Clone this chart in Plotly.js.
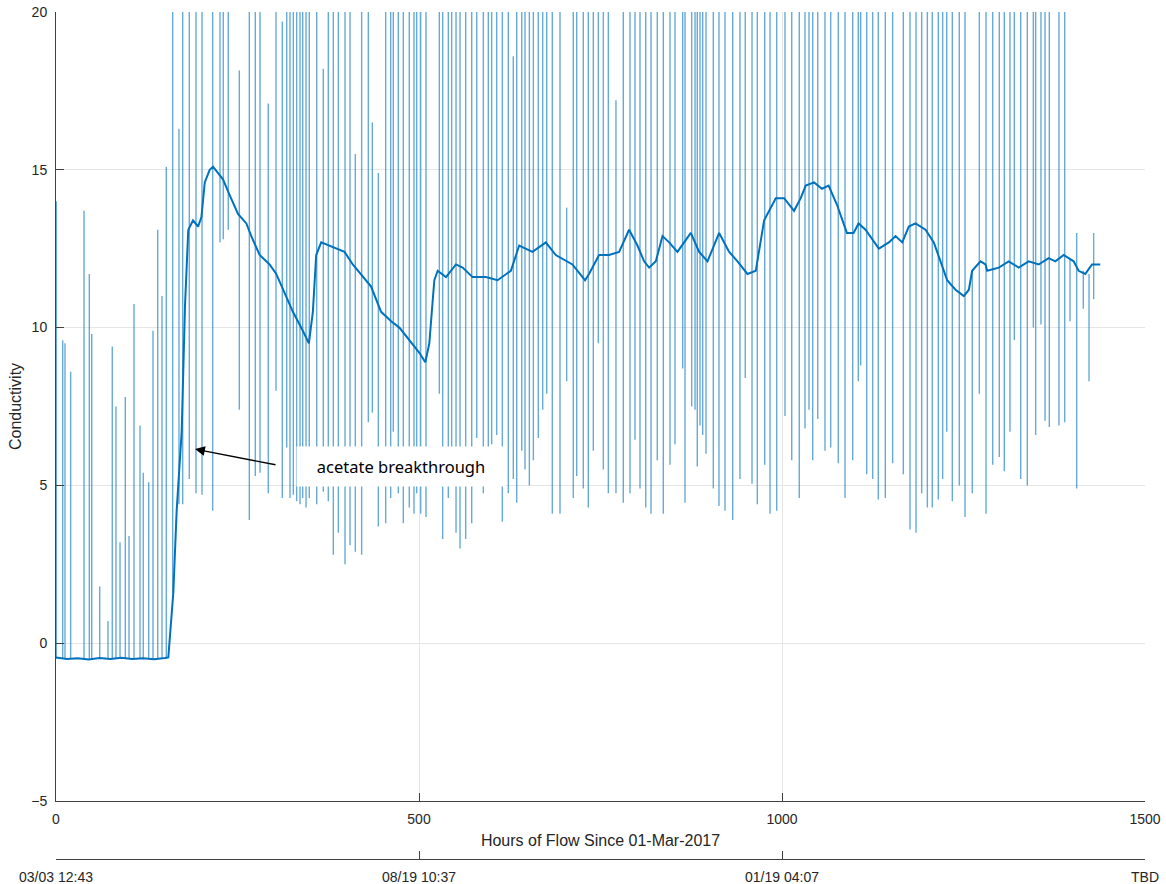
<!DOCTYPE html>
<html>
<head>
<meta charset="utf-8">
<script src="https://cdn.plot.ly/plotly-3.0.1.min.js"></script>
<style>html,body{margin:0;padding:0;background:#fff;}#chart{width:1166px;height:884px;}</style>
</head>
<body>
<div id="chart"></div>
<script>
// Smoothed conductivity trace (hours, value)
const baseHours = [0,15,30,45,60,75,90,105,120,135,150,154.7,161.6,166.2,173.1,177.7,182.2,188.8,195.7,200.3,204.9,211.7,216.3,223.2,230,239.2,250.7,262.2,269,280.5,294.2,303.4,312.5,326.3,340,348.3,353.8,358.4,365.3,376.7,397.4,408.8,422.6,434,447.8,461.6,473,486.7,500.5,508.7,514.2,521.1,525.7,537.2,550.9,560.1,573.8,592.2,608.2,626.5,638,656.3,674.7,688.4,711.3,728.7,734.2,748,761.8,775.6,789.4,800.9,810.1,817,826.2,835.4,844.5,856,874.4,885.9,897.4,913.4,927.2,938.7,952.4,963.9,975.4,991.4,1002.9,1016.6,1025.8,1032.7,1044.2,1055,1064.2,1075.6,1089.4,1098.6,1105.5,1115,1124,1133.4,1147.2,1156.4,1165.6,1174.7,1183.9,1197.7,1209.1,1218.3,1227.5,1239,1250.5,1257.4,1261.9,1273.4,1280.3,1282.6,1298.6,1312.3,1326.1,1339.8,1353.6,1367.3,1376.5,1388,1401.7,1408.6,1417.8,1427,1438.4];
const baseValues = [-0.45,-0.5,-0.48,-0.52,-0.47,-0.5,-0.46,-0.5,-0.48,-0.51,-0.47,-0.45,1.6,4.2,6.7,10.7,13.1,13.4,13.2,13.5,14.6,15.0,15.1,14.9,14.7,14.2,13.6,13.3,12.9,12.3,12.0,11.7,11.2,10.5,9.9,9.5,10.5,12.3,12.7,12.6,12.4,12.0,11.6,11.3,10.5,10.2,10.0,9.6,9.2,8.9,9.5,11.5,11.8,11.6,12.0,11.9,11.6,11.6,11.5,11.8,12.6,12.4,12.7,12.3,12.0,11.5,11.7,12.3,12.3,12.4,13.1,12.6,12.1,11.9,12.1,12.9,12.7,12.4,13.0,12.4,12.1,13.0,12.4,12.1,11.7,11.8,13.4,14.1,14.1,13.7,14.1,14.5,14.6,14.4,14.5,13.9,13.0,13.0,13.3,13.1,12.8,12.5,12.7,12.9,12.7,13.2,13.3,13.1,12.7,12.1,11.5,11.2,11.0,11.2,11.8,12.1,12.0,11.8,11.9,12.1,11.9,12.1,12.0,12.2,12.1,12.3,12.1,11.8,11.7,12.0,12.0];

// Sampling spikes: hour, lowest value, highest value (21 = off the top of the axis)
const spikeHours = [0.5,9.2,12.4,20.2,38.6,45.9,49.2,60.2,71.6,77.5,82.6,88.2,95.5,100.6,107.4,115.7,120.2,127.7,133.6,140.1,146.0,151.9,
160.7,169.4,174.5,183.6,192.8,201.1,215.8,225.9,230.4,237.3,252.5,266.3,274.5,281.0,292.4,303,311.7,317.8,322.3,326.9,331.5,336.1,339.8,344.4,348.9,359.1,368.2,375.1,
382,388.9,398.1,405,412.3,421,430.2,435.7,444,454.1,461,464.6,471.5,478.4,486.6,493.1,496.8,502.3,509.6,528,532.6,540.4,545,551,556.5,564.3,572.6,579.5,588.6,595.5,600.1,607,614.8,623,629.9,634.6,641.5,646,652,657.5,664.3,670.4,675.9,683.6,694.2,703.4,712.5,717.2,726.3,733.2,740.1,747,
753.9,760.8,771.3,781.4,790.6,797.5,804.4,812.3,819.6,828.2,836.5,845.7,852.6,863.2,866.4,875.6,880.2,883.3,887.1,890.8,895.3,905.4,913.2,921.5,932.1,942.1,949.4,958.7,966,976.2,983.5,992.7,1004.1,1013.4,1023.8,1031.7,1037.2,1042.3,1049.2,1059.2,1067.1,1077.5,1086.8,1097.4,1105.1,1108.4,1116.7,
1124.9,1132.6,1142.3,1152.4,1167.1,1176.3,1184.6,1192.4,1200.2,1207,1215.3,1221.3,1226.9,1234.6,1244.2,1252.1,1262.1,1271.8,1281,1290.2,1299.3,1306.2,1314,1320,1328.8,1337.9,1346.2,1349.4,1356.7,1362.3,1368.2,1381.5,1389.4,1396.7,1405.9,1415,1422.9,1429.3];
const spikeLow = [-0.5,-0.5,-0.5,-0.5,-0.5,-0.5,-0.5,-0.5,-0.5,-0.5,-0.5,-0.5,-0.5,-0.5,-0.5,-0.5,-0.5,-0.5,-0.5,-0.5,-0.5,-0.5,
1.6,4.4,4.4,5.2,4.75,4.7,4.2,12.7,12.8,13.1,7.4,3.9,5.3,5.4,4.75,8.0,4.6,6.2,4.6,4.7,4.5,4.4,4.6,4.3,4.6,4.4,4.8,4.5,
2.8,3.5,2.5,3.1,2.9,2.8,7.0,7.3,3.7,3.8,4.6,6.7,4.75,3.8,4.3,4.1,4.75,4.1,4.0,7.9,3.3,4.6,6.0,3.5,3.0,3.3,3.8,6.5,4.75,5.5,6.3,6.6,3.85,4.75,5.2,4.45,6.1,5.5,5.0,5.8,6.5,7.4,7.9,4.1,4.1,8.3,4.6,5.3,4.9,4.3,6.1,9.5,
5.5,4.75,4.75,4.45,4.75,6.45,4.9,4.3,4.1,5.8,4.1,5.65,6.3,8.7,4.45,7.5,7.4,5.6,6.9,6.6,6.0,4.9,4.35,4.2,3.9,5.2,8.4,5.05,4.4,5.65,4.1,4.2,7.2,5.8,4.6,6.8,7.4,5.8,7.1,6.1,6.2,5.7,4.6,5.8,8.3,8.8,5.35,
5.2,4.55,4.6,5.7,5.35,3.6,3.5,4.75,4.3,4.3,4.55,5.2,6.7,4.5,5.0,4.0,4.75,7.9,4.1,5.65,5.9,5.45,6.7,9.6,5.2,5.0,10.0,6.6,10.1,7.05,6.85,6.9,7.0,10.2,4.9,10.6,8.3,10.9];
const spikeHigh = [14.0,9.6,9.5,8.6,13.7,11.7,9.8,1.8,0.7,9.4,7.5,3.2,7.8,3.4,10.75,6.9,5.4,5.1,9.9,13.1,11.0,15.1,
21,16.3,21,21,21,21,21,21,21,21,18.15,21,21,21,17.1,21,19.7,21,21,21,21,21,21,21,21,21,18.2,21,
21,21,21,21,15.5,21,21,16.5,14.9,21,21,21,21,21,21,21,21,21,21,21,21,21,21,21,21,21,21,21,21,21,21,21,21,21,18.6,21,21,21,21,21,21,21,21,21,21,13.8,21,21,21,21,21,21,
21,21,17.2,21,21,21,21,21,21,21,21,21,21,21,21,21,21,21,21,21,21,21,21,21,21,21,21,21,21,21,21,21,21,21,21,21,21,21,21,21,21,21,21,21,21,21,21,
21,21,21,21,21,21,21,21,21,21,21,21,21,21,21,21,11.8,21,21,21,21,21,21,21,21,21,21,21,21,21,21,21,21,12.2,13.0,11.8,11.7,13.0];

const hourTicks = [0, 500, 1000, 1500];
const dateTickLabels = ['03/03 12:43', '08/19 10:37', '01/19 04:07', 'TBD'];

const sx = [], sy = [];
for (let i = 0; i < spikeHours.length; i++) {
  sx.push(spikeHours[i], spikeHours[i], null);
  sy.push(spikeLow[i], spikeHigh[i], null);
}

const tickFont = {family: 'Liberation Sans, Arial, sans-serif', size: 14, color: '#262626'};
const titleFont = {family: 'Liberation Sans, Arial, sans-serif', size: 16, color: '#262626'};

const data = [
  {x: sx, y: sy, type: 'scatter', mode: 'lines', line: {color: 'rgba(0,114,189,0.6)', width: 1.4}, hoverinfo: 'skip', showlegend: false},
  {x: baseHours, y: baseValues, type: 'scatter', mode: 'lines', line: {color: '#0072BD', width: 2}, showlegend: false},
  {x: [], y: [], xaxis: 'x2', type: 'scatter', mode: 'lines', showlegend: false}
];

const layout = {
  width: 1166, height: 884,
  margin: {l: 56, r: 21, t: 12, b: 25},
  paper_bgcolor: '#fff', plot_bgcolor: '#fff',
  showlegend: false,
  xaxis: {
    range: [0, 1500], tickvals: hourTicks, anchor: 'y',
    showline: true, linecolor: '#404040', linewidth: 1,
    ticks: 'inside', ticklen: 8, tickcolor: '#404040',
    showgrid: true, gridcolor: '#e6e6e6', zeroline: false,
    tickfont: tickFont, ticklabelstandoff: 5,
    title: {text: 'Hours of Flow Since 01-Mar-2017', font: titleFont, standoff: 9}
  },
  xaxis2: {
    range: [0, 1500], overlaying: 'x', anchor: 'free', position: 0, side: 'bottom',
    tickvals: hourTicks, ticktext: dateTickLabels,
    showline: true, linecolor: '#404040', linewidth: 1,
    ticks: 'inside', ticklen: 8, tickcolor: '#404040',
    showgrid: false, zeroline: false, tickfont: tickFont, ticklabelstandoff: 5
  },
  yaxis: {
    domain: [0.0685, 1], range: [-5, 20], dtick: 5,
    showline: true, linecolor: '#404040', linewidth: 1,
    ticks: 'inside', ticklen: 8, tickcolor: '#404040',
    showgrid: true, gridcolor: '#e6e6e6', zeroline: false,
    tickfont: tickFont, ticklabelstandoff: 5,
    title: {text: 'Conductivity', font: titleFont, standoff: 5}
  },
  annotations: [
    {x: 191.5, y: 6.15, xref: 'x', yref: 'y', text: '', showarrow: true, ax: 82, ay: 16,
     arrowhead: 2, arrowsize: 1.4, arrowwidth: 1.4, arrowcolor: '#000'},
    {x: 475, y: 5.6, xref: 'x', yref: 'y', text: 'acetate breakthrough', showarrow: false,
     bgcolor: '#fff', width: 206, height: 37,
     font: {family: 'Noto Sans, Open Sans, sans-serif', size: 16.5, color: '#000'}}
  ]
};

Plotly.newPlot('chart', data, layout, {displayModeBar: false, staticPlot: true});
</script>
</body>
</html>
